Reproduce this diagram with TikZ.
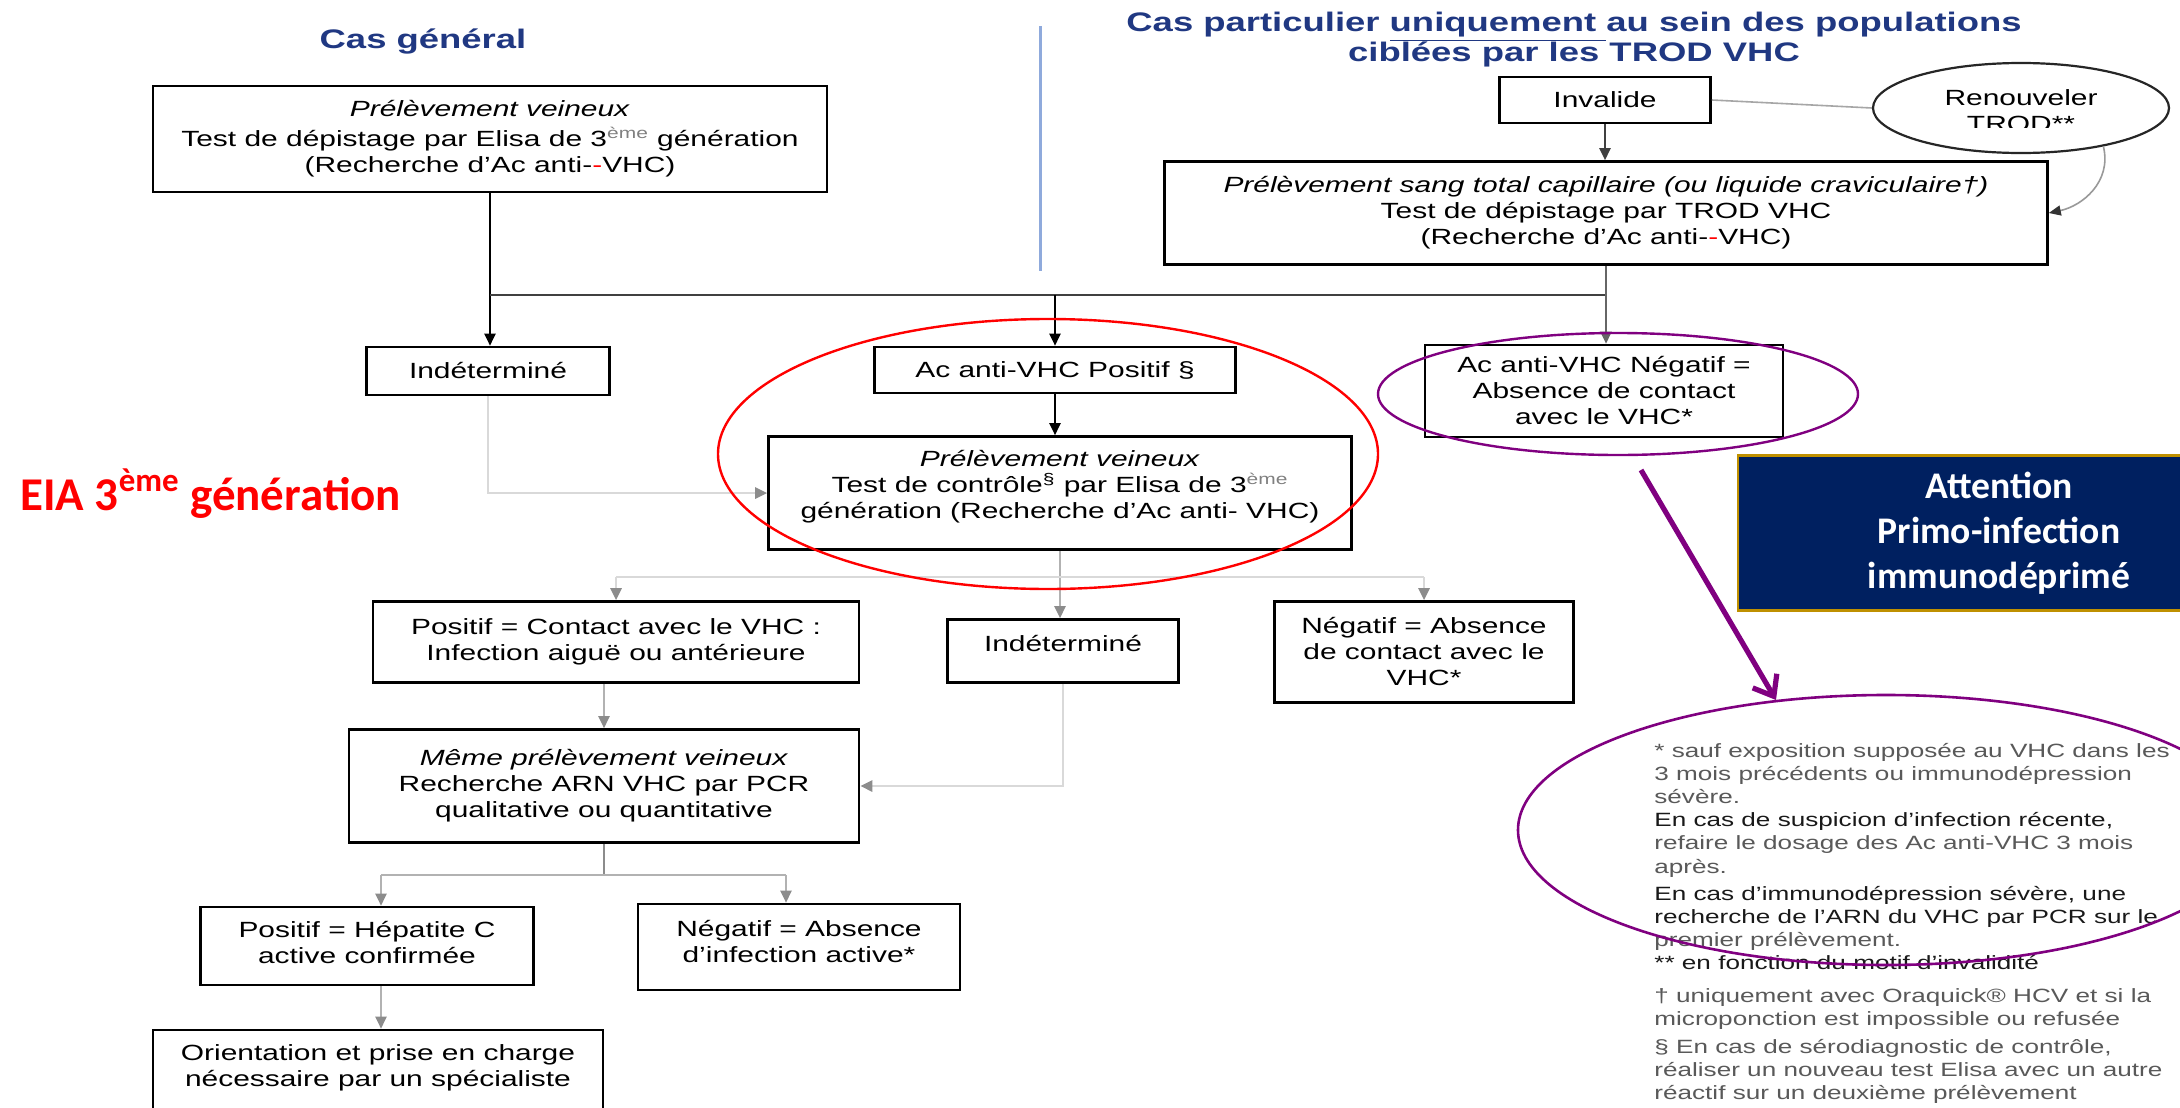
\documentclass[tikz,border=0pt]{standalone}
\usepackage{fontspec}
\setmainfont{Liberation Sans}[FakeStretch=1.36]
\newfontfamily\calibfont{Carlito}
\usetikzlibrary{arrows.meta,shapes.geometric}
\definecolor{tblue}{RGB}{32,56,130}
\definecolor{vblue}{RGB}{143,170,220}
\definecolor{navy}{RGB}{0,32,96}
\definecolor{gold}{RGB}{191,144,0}
\definecolor{purp}{RGB}{128,0,128}
\definecolor{eiared}{RGB}{255,0,0}
\newcommand\boxfont{\fontsize{11}{13}\selectfont}
\newcommand\notefont{\fontsize{9.6}{11.55}\selectfont}
\begin{document}
\begin{tikzpicture}[x=0.5pt,y=-0.5pt,
  box/.style={draw=black,line width=1.3pt,rectangle,inner sep=0pt,align=center,font=\boxfont},
  ttl/.style={text=tblue,font=\bfseries\fontsize{13.4}{15}\selectfont,align=center,inner sep=0pt},
  tipk/.style={-{Triangle[length=6pt,width=5.5pt]}},
  tipg/.style={-{Triangle[length=6pt,width=5.5pt,color=black!45]}},
  lnk/.style={draw=black,line width=1.1pt},
  lnd/.style={draw=black!75,line width=1.1pt},
  lng/.style={draw=black!30,line width=1.2pt},
  lnl/.style={draw=black!15,line width=1.3pt},
  ovl/.style={ellipse,draw,inner sep=0pt,fill=none}
]
\useasboundingbox (0,0) rectangle (2180,1108);
\clip (0,0) rectangle (2180,1108);
\fill[white] (0,0) rectangle (2180,1108);

% titles
\node[ttl] (tg) at (423,42) {Cas général};
\node[ttl] (tp) at (1574,40) {Cas particulier \underline{uniquement }au sein des populations\\ciblées par les TROD VHC};
\draw[vblue,line width=1.5pt] (1040,26) -- (1040,271);

% boxes
\node[box,minimum width=337pt,minimum height=53pt] (box1) at (490,139)
  {\textit{Prélèvement veineux}\\[2pt]Test de dépistage par Elisa de 3\textsuperscript{\color{black!50}ème} génération\\(Recherche d'Ac anti-\textcolor{red}{-}VHC)};
\node[box,minimum width=105.5pt,minimum height=23pt] (inv) at (1605,100) {Invalide};
\node[ovl,draw=black!85,line width=1.1pt,minimum width=148pt,minimum height=45pt] (renew) at (2021,108) {};
\begin{scope}
\clip (1880,60) rectangle (2170,127);
\node[font=\boxfont,align=center,inner sep=0pt] (renewtxt) at (2021,111) {Renouveler\\TROD**};
\end{scope}
\node[box,minimum width=441.5pt,minimum height=51.5pt] (trod) at (1606,213)
  {\textit{Prélèvement sang total capillaire (ou liquide craviculaire†)}\\Test de dépistage par TROD VHC\\(Recherche d'Ac anti-\textcolor{red}{-}VHC)};
\node[box,minimum width=121.5pt,minimum height=24pt] (ind1) at (488,371) {Indéterminé};
\node[box,minimum width=180.5pt,minimum height=23pt] (pos) at (1055,370) {Ac anti-VHC Positif §};
\node[box,minimum width=179pt,minimum height=46pt] (neg) at (1604,391) {Ac anti-VHC Négatif =\\Absence de contact\\avec le VHC*};
\node[box,minimum width=291.5pt,minimum height=56.5pt] (ctrl) at (1060,493)
  {\textit{Prélèvement veineux}\\Test de contrôle\textsuperscript{§} par Elisa de 3\textsuperscript{\color{black!50}ème}\\génération (Recherche d'Ac anti- VHC)\\[-4pt]\mbox{}};
\node[box,minimum width=243pt,minimum height=40.5pt] (posc) at (616,642) {Positif = Contact avec le VHC :\\Infection aiguë ou antérieure};
\node[box,minimum width=115.5pt,minimum height=31.5pt,text depth=8pt] (ind2) at (1063,651) {Indéterminé};
\node[box,minimum width=149.5pt,minimum height=50.5pt] (negc) at (1424,652) {Négatif = Absence\\de contact avec le\\VHC*};
\node[box,minimum width=255pt,minimum height=56.5pt] (meme) at (604,786) {\textit{Même prélèvement veineux}\\Recherche ARN VHC par PCR\\qualitative ou quantitative};
\node[box,minimum width=166.5pt,minimum height=39pt] (posh) at (367,946) {Positif = Hépatite C\\active confirmée\\[-9pt]\mbox{}};
\node[box,minimum width=161pt,minimum height=43pt] (negh) at (799,947) {Négatif = Absence\\d'infection active*\\[-7pt]\mbox{}};
\node[box,minimum width=225pt,minimum height=70pt] (orient) at (378,1100) {};
\node[font=\boxfont,align=center,inner sep=0pt,anchor=north] (orienttxt) at (378,1044) {Orientation et prise en charge\\nécessaire par un spécialiste};

% connectors (top)
\coordinate (hj) at (490,295);
\draw[lnk,tipk] (box1.south) -- (box1.south |- ind1.north);
\draw[lnd] (box1.south |- hj) -- (trod.south |- hj);
\draw[lnk,tipk] (pos.north |- hj) -- (pos.north);
\draw[lnd,draw=black!60,tipk] (trod.south) -- (trod.south |- neg.north);
\draw[lnd,tipk] (inv.south) -- (inv.south |- trod.north);
\draw[draw=black!35,line width=0.8pt] (inv.east) -- (renew.west);
\draw[draw=black!40,line width=0.8pt,-{Triangle[length=6pt,width=5pt,color=black!80]}] (renew.-25) .. controls (2112,182) and (2082,206) .. (trod.east);
\draw[lnk,tipk] (pos.south) -- (pos.south |- ctrl.north);
\draw[lnl,tipg] (ind1.south) |- (ctrl.west);

% connectors (middle)
\coordinate (bj) at (0,577);
\draw[lng,tipg] (ctrl.south) -- (ctrl.south |- ind2.north);
\draw[lnl] (posc.north |- bj) -- (negc.north |- bj);
\draw[lnl,tipg] (posc.north |- bj) -- (posc.north);
\draw[lnl,tipg] (negc.north |- bj) -- (negc.north);
\draw[lng,tipg] (meme.north |- posc.south) -- (meme.north);
\draw[lnl,tipg] (ind2.south) |- (meme.east);

% connectors (bottom)
\coordinate (mj) at (0,875);
\draw[lng,draw=black!45] (meme.south) -- (meme.south |- mj);
\draw[lng] ([xshift=7pt]posh.north |- mj) -- ([xshift=-6.5pt]negh.north |- mj);
\draw[lng,tipg] ([xshift=7pt]posh.north |- mj) -- ([xshift=7pt]posh.north);
\draw[lng,tipg] ([xshift=-6.5pt]negh.north |- mj) -- ([xshift=-6.5pt]negh.north);
\draw[lng,tipg] ([xshift=7pt]posh.south) -- ([xshift=7pt]posh.south |- orient.north);

% annotations
\node[anchor=base west,inner sep=0pt,text=eiared,font=\calibfont\bfseries\fontsize{23.5}{27}\selectfont] (eia) at (20,510) {EIA 3\textsuperscript{ème} génération};
\node[draw=gold,fill=navy,line width=1.2pt,minimum width=261pt,minimum height=77.5pt,inner sep=0pt,
  text=white,align=center,font=\calibfont\bfseries\fontsize{18.8}{22.5}\selectfont] (attn) at (1999,533)
  {Attention\\Primo-infection\\immunodéprimé};

\node[anchor=north west,inner sep=0pt,align=left,font=\notefont,text=black!65] (notes) at (1654,743)
  {* sauf exposition supposée au VHC dans les\\
   3 mois précédents ou immunodépression\\
   sévère.\\
   {\color{black!90}En cas de suspicion d'infection récente,}\\
   refaire le dosage des Ac anti-VHC 3 mois\\
   après.\\[2.2pt]
   {\color{black!90}En cas d'immunodépression sévère, une}\\
   {\color{black!90}recherche de l'ARN du VHC par PCR sur le}\\
   premier prélèvement.\\
   {\color{black!90}** en fonction du motif d'invalidité}\\[4.6pt]
   † uniquement avec Oraquick® HCV et si la\\
   microponction est impossible ou refusée\\[2.6pt]
   § En cas de sérodiagnostic de contrôle,\\
   réaliser un nouveau test Elisa avec un autre\\
   réactif sur un deuxième prélèvement};

\node[ovl,draw=eiared,line width=1.2pt,minimum width=330pt,minimum height=135pt] (redov) at (1048,454) {};
\node[ovl,draw=purp,line width=1.2pt,minimum width=240pt,minimum height=61pt] (negov) at (1618,394) {};
\node[ovl,draw=purp,line width=1.3pt,minimum width=368pt,minimum height=135pt] (noteov) at (1886,830) {};
\coordinate (pa) at (1641,470);
\coordinate (pb) at (1776,700);
\draw[purp,line width=2.6pt,-{Straight Barb[length=9pt,width=14pt]}] (pa) -- (pb);
\end{tikzpicture}
\end{document}
